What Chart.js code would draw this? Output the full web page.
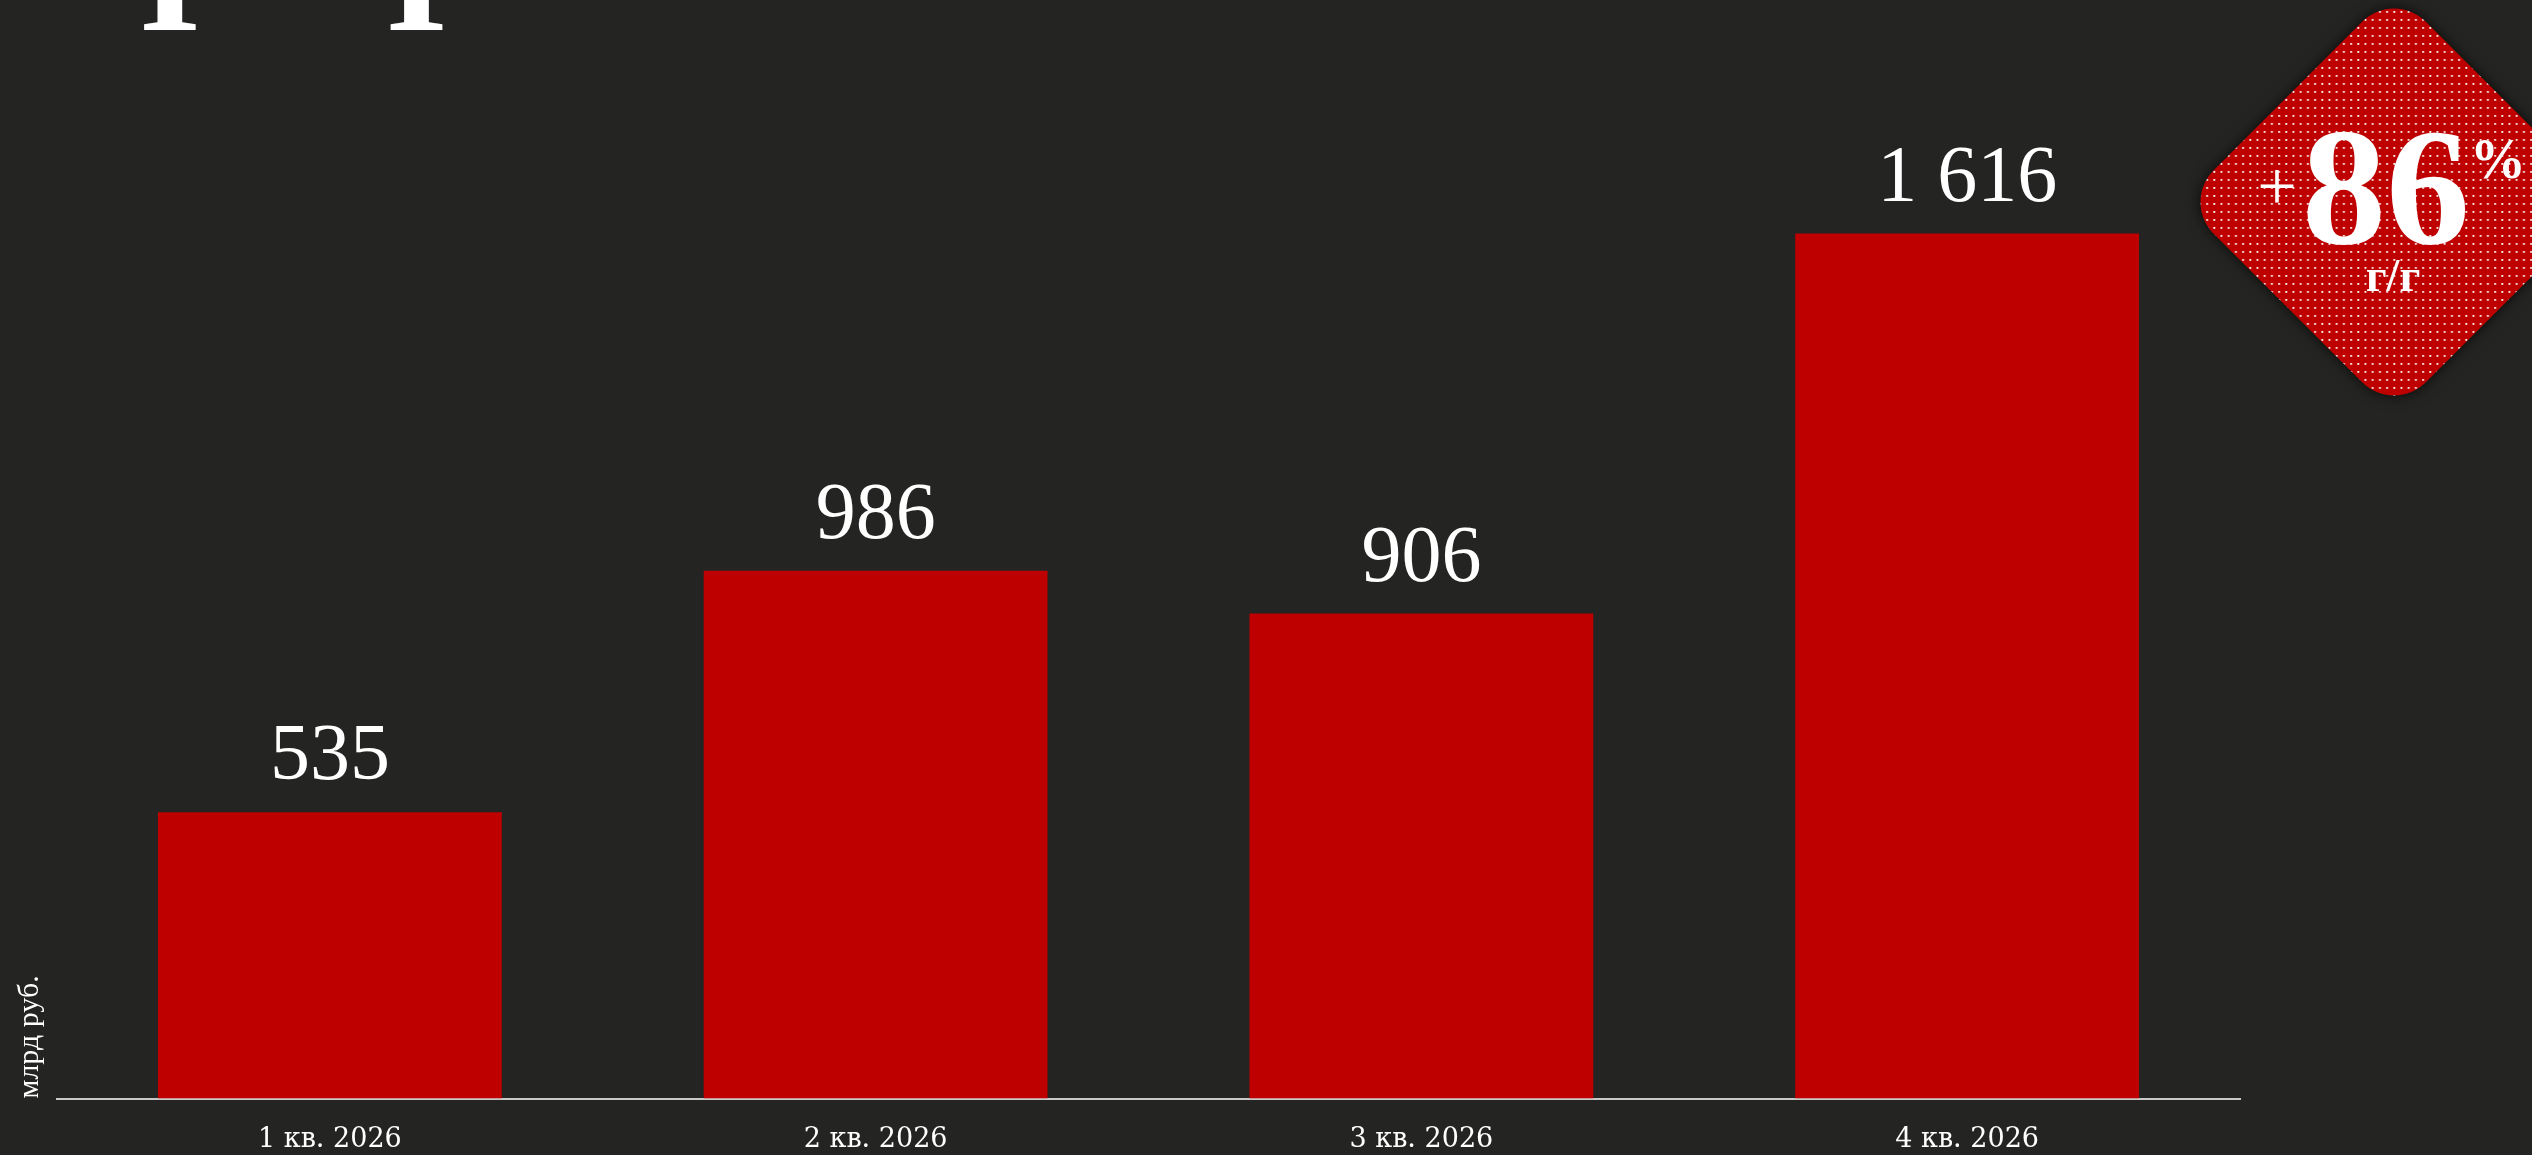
<!DOCTYPE html>
<html lang="ru">
<head>
<meta charset="utf-8">
<title>Прибыль по кварталам</title>
<script src="https://cdn.jsdelivr.net/npm/chart.js@4.4.1/dist/chart.umd.min.js"></script>
<style>
  html, body {
    margin: 0;
    padding: 0;
    width: 2532px;
    height: 1155px;
    overflow: hidden;
    background: #242422;
  }
  #chart {
    position: absolute;
    left: 0;
    top: 0;
  }
  #overlay {
    position: absolute;
    left: 0;
    top: 0;
    pointer-events: none;
  }
  #badge {
    filter: drop-shadow(0 0 7px rgba(0, 0, 0, 0.75));
  }
</style>
</head>
<body>
<canvas id="chart" width="2532" height="1181"></canvas>

<svg id="overlay" width="2532" height="1155" xmlns="http://www.w3.org/2000/svg"
     xmlns:xlink="http://www.w3.org/1999/xlink">
  <defs>
    <pattern id="dots" x="0" y="0" width="7.2" height="8" patternUnits="userSpaceOnUse">
      <rect x="0" y="0" width="7.2" height="8" fill="#be0000"/>
      <rect x="3" y="3" width="1.8" height="1.8" fill="#ffffff"/>
    </pattern>
    <clipPath id="diamond">
      <rect x="-150" y="-150" width="300" height="300" rx="45" ry="45"
            transform="translate(2394 202) rotate(45)"/>
    </clipPath>
    <clipPath id="headLeft">
      <rect x="0" y="0" width="205" height="60"/>
    </clipPath>
    <clipPath id="headRight">
      <rect x="385" y="0" width="200" height="60"/>
    </clipPath>
  </defs>

  <!-- обрезанный сверху заголовок: видны только низы штрихов -->
  <g clip-path="url(#headLeft)">
    <text id="headP" x="141" y="30" fill="#ffffff" font-family="Liberation Serif"
          font-weight="bold" font-size="160">П</text>
  </g>
  <g clip-path="url(#headRight)">
    <use xlink:href="#headP" href="#headP" transform="translate(180 0)"/>
  </g>

  <g id="badge">
    <rect x="2150" y="0" width="400" height="420" fill="url(#dots)" clip-path="url(#diamond)"/>
  </g>
  <text id="badgePlus" x="2277" y="210" fill="#ffffff" font-family="Liberation Serif"
        font-size="70" text-anchor="middle"></text>
  <text id="badgeValue" x="2386" y="243" fill="#ffffff" font-family="Liberation Serif"
        font-weight="bold" font-size="168" text-anchor="middle"></text>
  <text id="badgePct" x="2470" y="178" fill="#ffffff" font-family="Liberation Serif"
        font-weight="bold" font-size="56"></text>
  <text id="badgeUnit" x="2393" y="291" fill="#ffffff" font-family="Liberation Serif"
        font-weight="bold" font-size="46" text-anchor="middle"></text>
</svg>

<script>
// данные
const quarters = ['1 кв. 2026', '2 кв. 2026', '3 кв. 2026', '4 кв. 2026'];
const profit = [535, 986, 906, 1616];
const valueLabels = ['535', '986', '906', '1 616'];
const unitLabel = 'млрд руб.';
const yoyGrowth = '86';
const yoyLabel = 'г/г';

// бейдж с ростом год к году
document.getElementById('badgePlus').textContent = '+';
document.getElementById('badgeValue').textContent = yoyGrowth;
document.getElementById('badgePct').textContent = '%';
document.getElementById('badgeUnit').textContent = yoyLabel;

// подписи значений над столбцами
const valueLabelPlugin = {
  id: 'valueLabels',
  afterDatasetsDraw(chart) {
    const ctx = chart.ctx;
    const meta = chart.getDatasetMeta(0);
    ctx.save();
    ctx.fillStyle = '#ffffff';
    ctx.font = '80px "Liberation Serif"';
    ctx.textAlign = 'center';
    ctx.textBaseline = 'alphabetic';
    meta.data.forEach((bar, i) => {
      ctx.fillText(valueLabels[i], bar.x, bar.y - 33);
    });
    ctx.restore();
  }
};

new Chart(document.getElementById('chart'), {
  type: 'bar',
  data: {
    labels: quarters,
    datasets: [{
      data: profit,
      backgroundColor: '#be0000',
      borderWidth: 0,
      categoryPercentage: 1,
      barPercentage: 0.63
    }]
  },
  options: {
    responsive: false,
    animation: false,
    devicePixelRatio: 1,
    layout: {
      padding: { left: 12, right: 292, top: 28, bottom: 0 }
    },
    plugins: {
      legend: { display: false },
      tooltip: { enabled: false }
    },
    scales: {
      x: {
        grid: { display: false, drawTicks: false },
        border: { display: true, color: '#c9c9c9', width: 2 },
        ticks: {
          color: '#ffffff',
          padding: 25,
          font: { family: 'DejaVu Serif', size: 27 }
        }
      },
      y: {
        min: 0,
        max: 2000,
        grid: { display: false, drawTicks: false },
        border: { display: false },
        ticks: { display: false },
        title: {
          display: true,
          text: unitLabel,
          align: 'start',
          color: '#ffffff',
          padding: { top: 0, bottom: 9 },
          font: { family: 'Liberation Serif', size: 30 }
        }
      }
    }
  },
  plugins: [valueLabelPlugin]
});
</script>
</body>
</html>
